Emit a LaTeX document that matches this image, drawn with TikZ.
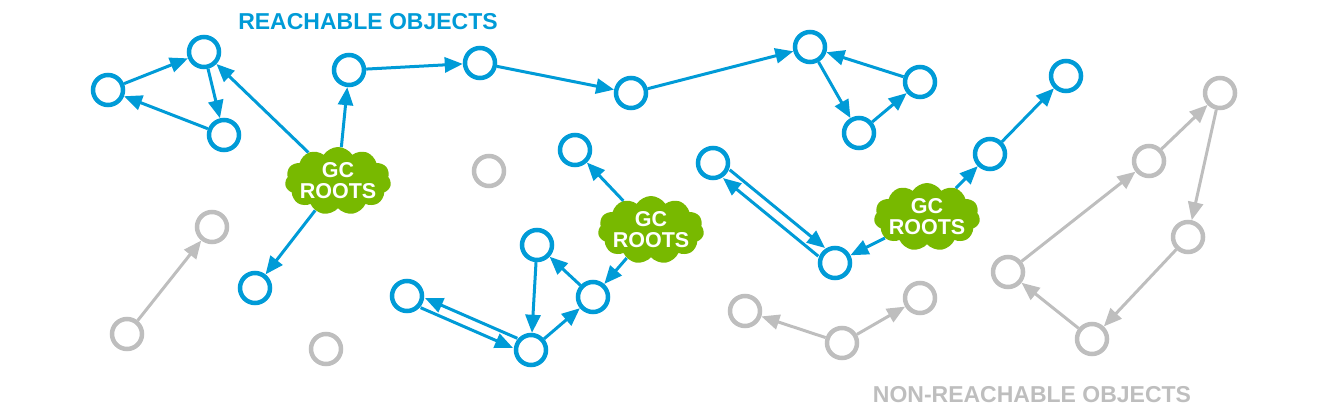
\documentclass[tikz,border=0pt]{standalone}
\usepackage{fontspec}
\setmainfont{Liberation Sans}
\usetikzlibrary{arrows.meta,shapes.symbols,calc}
\definecolor{gcblue}{RGB}{0,155,215}
\definecolor{gcgreen}{RGB}{120,185,0}
\definecolor{gcgrey}{RGB}{190,190,190}
\tikzset{
  obj/.style={circle,draw=gcblue,line width=4.5pt,minimum size=30pt,inner sep=0pt},
  deadobj/.style={obj,draw=gcgrey},
  ref/.style={draw=gcblue,line width=3pt,-{Triangle[length=18pt,width=15pt]}},
  deadref/.style={ref,draw=gcgrey,fill=gcgrey},
  root/.style={cloud,cloud puffs=11,cloud puff arc=115,aspect=1.6,fill=gcgreen,draw=none,
    minimum width=106pt,minimum height=68pt,inner xsep=-14pt,inner ysep=-9pt,
    text=white,font=\fontsize{21.5}{21}\selectfont\bfseries,align=center},
  heading/.style={font=\fontsize{23}{26}\selectfont\bfseries}
}
\begin{document}
\begin{tikzpicture}[x=1pt,y=-1pt]
\useasboundingbox (0,0) rectangle (1322,414);
% headings
\node[heading,text=gcblue] (t1) at (368,22) {REACHABLE OBJECTS};
\node[heading,text=gcgrey] (t2) at (1032,395) {NON-REACHABLE OBJECTS};
% roots
\node[root] (r1) at (338,181) {GC\\ROOTS};
\node[root] (r2) at (651,230) {GC\\ROOTS};
\node[root] (r3) at (927,217) {GC\\ROOTS};
% reachable objects
\node[obj] (a1) at (108,90) {};
\node[obj] (a2) at (204,52) {};
\node[obj] (a3) at (224,135) {};
\node[obj] (b1) at (349,70) {};
\node[obj] (b2) at (480,63) {};
\node[obj] (b3) at (631,93) {};
\node[obj] (b4) at (810,47) {};
\node[obj] (b5) at (920,82) {};
\node[obj] (b6) at (859,133) {};
\node[obj] (c1) at (255,288) {};
\node[obj] (d1) at (575,150) {};
\node[obj] (d2) at (593,297) {};
\node[obj] (d3) at (537,245) {};
\node[obj] (d4) at (407,296) {};
\node[obj] (d5) at (531,350) {};
\node[obj] (e1) at (713,163) {};
\node[obj] (e2) at (835,263) {};
\node[obj] (e3) at (990,154) {};
\node[obj] (e4) at (1066,76) {};
% non-reachable objects
\node[deadobj] (g1) at (489,171) {};
\node[deadobj] (g2) at (212,227) {};
\node[deadobj] (g3) at (127,334) {};
\node[deadobj] (g4) at (326,349) {};
\node[deadobj] (h1) at (1220,93) {};
\node[deadobj] (h2) at (1149,161) {};
\node[deadobj] (h3) at (1188,237) {};
\node[deadobj] (h4) at (1008,272) {};
\node[deadobj] (h5) at (1092,339) {};
\node[deadobj] (j1) at (745,311) {};
\node[deadobj] (j2) at (842,343) {};
\node[deadobj] (j3) at (920,298) {};
% reachable references
\draw[ref] (a1) -- (a2);
\draw[ref] (a2) -- (a3);
\draw[ref] (a3) -- (a1);
\draw[ref] (r1) -- (a2);
\draw[ref] (r1) -- (b1);
\draw[ref] (r1) -- (c1);
\draw[ref] (b1) -- (b2);
\draw[ref] (b2) -- (b3);
\draw[ref] (b3) -- (b4);
\draw[ref] (b4) -- (b6);
\draw[ref] (b6) -- (b5);
\draw[ref] (b5) -- (b4);
\draw[ref] (r2) -- (d1);
\draw[ref] (r2) -- (d2);
\draw[ref] (d2) -- (d3);
\draw[ref] (d3) -- (d5);
\draw[ref] (d5) -- (d2);
\draw[ref,transform canvas={shift={(2.2,-4.8)}}] (d5) -- (d4);
\draw[ref,transform canvas={shift={(-2.2,4.8)}}] (d4) -- (d5);
\draw[ref] (r3) -- (e2);
\draw[ref] (r3) -- (e3);
\draw[ref] (e3) -- (e4);
\draw[ref,transform canvas={shift={(3.4,-4.1)}}] (e1) -- (e2);
\draw[ref,transform canvas={shift={(-3.4,4.1)}}] (e2) -- (e1);
% non-reachable references
\draw[deadref] (g3) -- (g2);
\draw[deadref] (h4) -- (h2);
\draw[deadref] (h2) -- (h1);
\draw[deadref] (h1) -- (h3);
\draw[deadref] (h3) -- (h5);
\draw[deadref] (h5) -- (h4);
\draw[deadref] (j2) -- (j1);
\draw[deadref] (j2) -- (j3);
\end{tikzpicture}
\end{document}
